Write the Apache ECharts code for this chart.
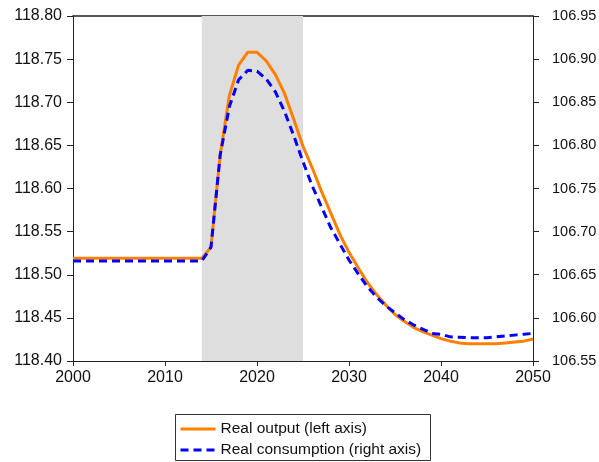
<!DOCTYPE html>
<html>
<head>
<meta charset="utf-8">
<title>Real output and consumption</title>
<script src="https://cdn.jsdelivr.net/npm/echarts@6/dist/echarts.min.js"></script>
<style>
  html, body { margin: 0; padding: 0; background: #fff; }
  #chart { width: 599px; height: 462px; }
</style>
</head>
<body>
<div id="chart"></div>
<script>
// Annual observations, 2000-2050
const years = [];
for (let y = 2000; y <= 2050; y++) years.push(y);

// Real output (left axis)
const realOutput = [
  118.519, 118.519, 118.519, 118.519, 118.519, 118.519, 118.519, 118.519, 118.519, 118.519,
  118.519, 118.519, 118.519, 118.519, 118.519,
  118.532, 118.639, 118.708, 118.743, 118.758, 118.758, 118.748, 118.732, 118.710, 118.680,
  118.649, 118.624, 118.597, 118.572, 118.547, 118.526,
  118.508, 118.491, 118.477, 118.465, 118.454, 118.446, 118.439, 118.434, 118.430, 118.426,
  118.423, 118.421, 118.420, 118.420, 118.420, 118.420, 118.421, 118.422, 118.423, 118.4255
];

// Real consumption (right axis)
const realConsumption = [
  106.666, 106.666, 106.666, 106.666, 106.666, 106.666, 106.666, 106.666, 106.666, 106.666,
  106.666, 106.666, 106.666, 106.666, 106.666,
  106.682, 106.789, 106.845, 106.876, 106.887, 106.886, 106.877, 106.862, 106.839, 106.811,
  106.781, 106.753, 106.729, 106.705, 106.686, 106.667,
  106.651, 106.636, 106.624, 106.614, 106.606, 106.598, 106.592, 106.587, 106.582, 106.581,
  106.578, 106.5775, 106.577, 106.577, 106.577, 106.578, 106.579, 106.580, 106.581, 106.582
];

// Shaded period
const shadeFrom = 2014;
const shadeTo = 2025;

const seriesNames = ['Real output (left axis)', 'Real consumption (right axis)'];
const seriesColors = ['#ff8000', '#0000ff'];

const font = 'Liberation Sans, Arial, sans-serif';
const axisColor = '#222';
const tickFont = 16;

const chart = echarts.init(document.getElementById('chart'), null, { renderer: 'canvas' });

// One legend entry per row, framed together by a single box; only the line sample is shown
function legendRow(name, top) {
  return {
    show: true,
    orient: 'vertical',
    left: 179, top: top,
    padding: 0,
    itemWidth: 35, itemHeight: 14,
    itemTextGap: 4,
    selectedMode: false,
    itemStyle: { opacity: 0 },
    lineStyle: { width: 3 },
    textStyle: { color: '#111', fontFamily: font, fontSize: 15.5 },
    data: [name]
  };
}

chart.setOption({
  animation: false,
  backgroundColor: '#fff',
  grid: { left: 73, right: 66, top: 16, bottom: 101, containLabel: false, outerBoundsMode: 'none' },
  xAxis: [
    {
      type: 'value', min: 2000, max: 2050, interval: 10,
      axisLine: { show: true, lineStyle: { color: axisColor, width: 1 } },
      axisTick: { show: true, inside: false, length: 5, lineStyle: { color: axisColor } },
      axisLabel: { color: '#111', fontFamily: font, fontSize: tickFont, margin: 9,
                   formatter: v => String(v) },
      splitLine: { show: false }
    },
    {
      type: 'value', min: 2000, max: 2050, position: 'top',
      axisLine: { show: true, onZero: false, lineStyle: { color: axisColor, width: 1.5 } },
      axisTick: { show: false }, axisLabel: { show: false }, splitLine: { show: false }
    }
  ],
  yAxis: [
    {
      type: 'value', min: 118.40, max: 118.80, interval: 0.05, position: 'left',
      axisLine: { show: true, lineStyle: { color: axisColor, width: 1 } },
      axisTick: { show: true, inside: false, length: 6, lineStyle: { color: axisColor } },
      axisLabel: { color: '#111', fontFamily: font, fontSize: tickFont, margin: 11,
                   formatter: v => v.toFixed(2) },
      splitLine: { show: false }
    },
    {
      type: 'value', min: 106.55, max: 106.95, interval: 0.05, position: 'right',
      axisLine: { show: true, lineStyle: { color: axisColor, width: 1 } },
      axisTick: { show: true, inside: false, length: 6, lineStyle: { color: axisColor } },
      axisLabel: { color: '#111', fontFamily: font, fontSize: 14.5, margin: 19,
                   formatter: v => v.toFixed(2) },
      splitLine: { show: false }
    }
  ],
  legend: [legendRow(seriesNames[0], 421), legendRow(seriesNames[1], 442)],
  graphic: [
    {
      type: 'rect', left: 175, top: 414, silent: true, z: -1,
      shape: { width: 255, height: 46 },
      style: { fill: '#fff', stroke: '#333', lineWidth: 1 }
    }
  ],
  series: [
    {
      name: seriesNames[0],
      type: 'line',
      xAxisIndex: 0, yAxisIndex: 0,
      data: years.map((y, i) => [y, realOutput[i]]),
      showSymbol: false, symbol: 'none',
      lineStyle: { color: seriesColors[0], width: 3 },
      itemStyle: { color: seriesColors[0] },
      z: 3,
      markArea: {
        silent: true,
        itemStyle: { color: '#dedede' },
        data: [[{ xAxis: shadeFrom }, { xAxis: shadeTo }]]
      }
    },
    {
      name: seriesNames[1],
      type: 'line',
      xAxisIndex: 0, yAxisIndex: 1,
      data: years.map((y, i) => [y, realConsumption[i]]),
      showSymbol: false, symbol: 'none',
      lineStyle: { color: seriesColors[1], width: 3, type: [8, 5] },
      itemStyle: { color: seriesColors[1] },
      z: 4
    }
  ]
});
</script>
</body>
</html>
